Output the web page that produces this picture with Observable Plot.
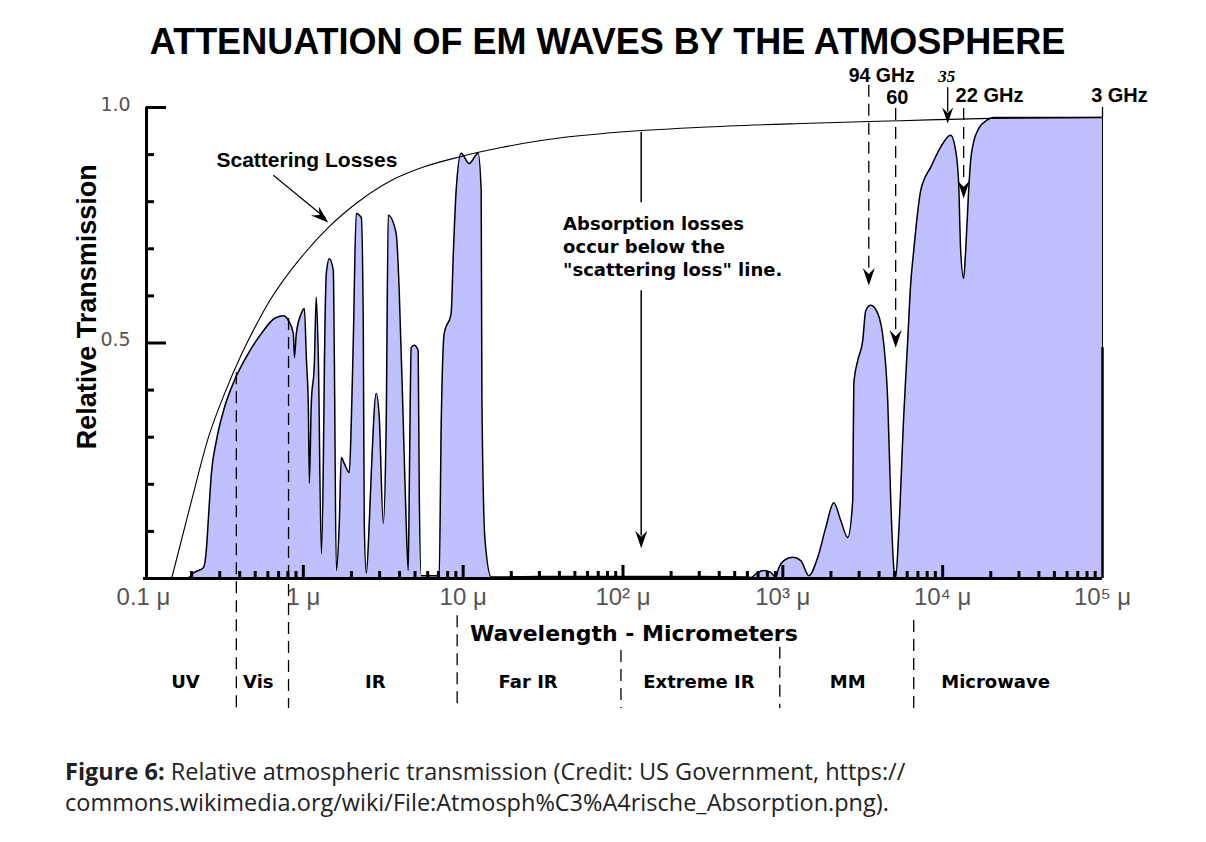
<!DOCTYPE html>
<html>
<head>
<meta charset="utf-8">
<script src="https://cdn.jsdelivr.net/npm/d3@7"></script>
<script src="https://cdn.jsdelivr.net/npm/@observablehq/plot@0.6"></script>
<style>
html, body { margin: 0; padding: 0; background: #fff; overflow: hidden; }
#title { height: 60px; box-sizing: border-box; padding-top: 27px; padding-left: 9px; text-align: center;
  font: bold 36px/29px "Liberation Sans", Arial, sans-serif; color: #000; white-space: nowrap; }
#chart svg { display: block; }
#caption { margin-top: 26px; padding-left: 65px; font: 23.5px/31px "Open Sans", "Noto Sans", sans-serif; color: #222; white-space: nowrap; }
</style>
</head>
<body>
<div id="title">ATTENUATION OF EM WAVES BY THE ATMOSPHERE</div>
<div id="chart"></div>
<div id="caption"><b>Figure 6:</b> Relative atmospheric transmission (Credit: US Government, https://<br>commons.wikimedia.org/wiki/File:Atmosph%C3%A4rische_Absorption.png).</div>
<script>
// ---- Data ----
// Relative transmission (filled curve): wavelength in micrometers, transmission 0..1
const transWavelength = [
  0.1, 0.186, 0.208, 0.237, 0.248, 0.255, 0.266, 0.286, 0.321, 0.370, 0.453, 0.546, 0.659, 0.750, 0.806,
  0.866, 0.879, 0.904, 0.972, 1.015, 1.044, 1.075, 1.090, 1.122, 1.172, 1.205, 1.241, 1.296, 1.334, 1.353,
  1.393, 1.454, 1.540, 1.563, 1.608, 1.679, 1.728, 1.804, 1.939, 1.995, 2.054, 2.144, 2.304, 2.371, 2.405,
  2.477, 2.585, 2.661, 2.858, 2.985, 3.162, 3.30, 3.40, 3.81, 3.98, 4.22, 4.40, 4.53, 4.60, 4.73, 4.94,
  5.23, 5.31, 5.46, 7.08, 7.29, 7.61, 8.41, 8.66, 9.04, 9.71, 10.9, 12.4, 12.96, 13.1, 13.7, 15.0,
  30, 100, 300, 600, 631, 698, 761, 841, 904, 944, 1015, 1155, 1296, 1454, 1654, 1856, 2083, 2304, 2547,
  2738, 2780, 2944, 3162, 3302, 3548, 3925, 4277, 4531, 4732, 4943, 5081, 5309, 5702, 6043, 6310, 6591,
  7291, 7499, 8414, 9716, 11220, 12050, 12590, 12960, 13530, 13930, 14540, 14960, 15630, 16790, 19100,
  20830, 100000
];
const transValue = [
  0, 0, 0.013, 0.023, 0.066, 0.130, 0.223, 0.293, 0.363, 0.420, 0.478, 0.520, 0.552, 0.558, 0.548,
  0.520, 0.469, 0.520, 0.563, 0.573, 0.469, 0.363, 0.202, 0.372, 0.456, 0.597, 0.469, 0.053, 0.244, 0.435,
  0.648, 0.679, 0.654, 0.469, 0.017, 0.117, 0.257, 0.244, 0.225, 0.329, 0.505, 0.775, 0.766, 0.541, 0.117,
  0.011, 0.117, 0.223, 0.393, 0.342, 0.117, 0.329, 0.771, 0.732, 0.611, 0.329, 0.117, 0.017, 0.187, 0.490, 0.495,
  0.484, 0.187, 0.006, 0.006, 0.329, 0.520, 0.563, 0.682, 0.824, 0.903, 0.881, 0.903, 0.824, 0.378, 0.081, 0.003,
  0.004, 0.004, 0.004, 0.003, 0.002, 0.013, 0.017, 0.013, 0.002, 0.023, 0.038, 0.045, 0.038, 0.006, 0.045, 0.108, 0.161, 0.123, 0.087,
  0.166, 0.414, 0.463, 0.505, 0.569, 0.580, 0.563, 0.499, 0.378, 0.166, 0.023, 0.002, 0.096, 0.342, 0.505, 0.626, 0.696,
  0.824, 0.839, 0.873, 0.916, 0.941, 0.909, 0.839, 0.696, 0.637, 0.696, 0.824, 0.887, 0.927, 0.955, 0.974,
  0.979, 0.979
];
// Scattering-loss limit (upper curve)
const scatterWavelength = [0.150, 0.200, 0.255, 0.321, 0.409, 0.510, 0.604, 0.729, 1.015, 1.43, 2.21, 3.55, 5.7, 9.7, 17.3, 30.7, 97, 307, 1296, 5464, 19950, 100000];
const scatterValue      = [0,     0.166, 0.300, 0.392, 0.475, 0.540, 0.585, 0.627, 0.690, 0.745, 0.800, 0.845, 0.874, 0.896, 0.915, 0.930, 0.948, 0.958, 0.966, 0.972, 0.977, 0.979];

// Axis ticks and labels
const xTickValues = [0.1, 1, 10, 100, 1000, 10000, 100000];
const xTickLabels = ["0.1 μ", "1 μ", "10 μ", "10² μ", "10³ μ", "10⁴ μ", "10⁵ μ"];
const xMajorTicks = [1, 10, 100, 1000, 10000];
const xMinorTicks = [0.1, 1, 10, 100, 1000, 10000].flatMap(d => [2, 3, 4, 5, 6, 7, 8, 9].map(k => k * d));
const yTickValues = [0.5, 1.0];
const yTickLabels = ["0.5", "1.0"];
const yMinorTicks = [0.1, 0.2, 0.3, 0.4, 0.6, 0.7, 0.8, 0.9];

// Spectral bands
const bandNames   = ["UV", "Vis", "IR", "Far IR", "Extreme IR", "MM", "Microwave"];
const bandCenters = [0.183, 0.523, 2.82, 25.5, 298.5, 2547, 21430];
const bandEdges   = [0.381, 0.808, 9.17, 97.1, 957, 6590];
const bandEdgeTop = [0.437, 0.552, -0.079, -0.153, -0.146, -0.089];

// Frequency markers (wavelength in micrometers)
const markerWavelength = [3450, 5081, 13530];
const markerTop = [1.047, 0.998, 0.998];
const markerTip = [0.622, 0.490, 0.807];
const marker35Wavelength = [10750];

// ---- Chart ----
const trans = transWavelength.map((w, i) => ({w, t: transValue[i]}));
const scatter = scatterWavelength.map((w, i) => ({w, t: scatterValue[i]}));

const arrowHead = {
  draw(ctx, size) {
    const r = Math.sqrt(size / Math.PI);
    ctx.moveTo(0, 0);
    ctx.lineTo(-0.55 * r, -1.6 * r);
    ctx.lineTo(0, -1.05 * r);
    ctx.lineTo(0.55 * r, -1.6 * r);
    ctx.closePath();
  }
};

const sans = "'Liberation Sans', Arial, sans-serif";
const deja = "'DejaVu Sans', sans-serif";
const dash = "12,7";

const chart = Plot.plot({
  width: 1206,
  height: 670,
  marginLeft: 143,
  marginRight: 104,
  marginTop: 47,
  marginBottom: 152,
  x: {type: "log", domain: [0.1, 1e5]},
  y: {domain: [0, 1]},
  style: {background: "white", overflow: "visible", color: "#000"},
  marks: [
    Plot.areaY(trans, {x: "w", y: "t", fill: "#c0c0ff", curve: "monotone-x"}),
    Plot.line(trans, {x: "w", y: "t", stroke: "#000", strokeWidth: 1.5, curve: "monotone-x"}),
    Plot.line(scatter, {x: "w", y: "t", stroke: "#000", strokeWidth: 1.1, curve: "monotone-x"}),

    // axes lines and inward ticks
    Plot.ruleY([0], {stroke: "#000", strokeWidth: 3}),
    Plot.ruleX([0.1], {y1: 0, y2: 1, stroke: "#000", strokeWidth: 3, dx: 3}),
    Plot.axisX({ticks: xMinorTicks, tickSize: -7, strokeWidth: 3, fill: "none", label: null}),
    Plot.axisX({ticks: xMajorTicks, tickSize: -13, strokeWidth: 3, fill: "none", label: null}),
    Plot.axisY({ticks: yMinorTicks, tickSize: -8, strokeWidth: 3, fill: "none", label: null, dx: 3}),
    Plot.axisY({ticks: yTickValues, tickSize: -20, strokeWidth: 3, fill: "none", label: null, dx: 3}),
    Plot.ruleX([1e5], {y1: 0, y2: 1.0, stroke: "#000", strokeWidth: 1}),
    Plot.ruleX([1e5], {y1: 0, y2: 0.49, stroke: "#000", strokeWidth: 2.5}),

    // tick labels
    Plot.text(xTickValues, {x: d => d, text: (d, i) => xTickLabels[i], frameAnchor: "bottom", lineAnchor: "middle", dy: 19,
      fontSize: 24, fill: "#555", fontFamily: sans}),
    Plot.text(yTickValues, {y: d => d, text: (d, i) => yTickLabels[i], frameAnchor: "left", textAnchor: "middle", dx: -28, dy: -3,
      fontSize: 19, fill: "#555", fontFamily: deja}),

    // axis titles
    Plot.text(["Relative Transmission"], {frameAnchor: "left", textAnchor: "middle", y: 0.577, dx: -56, rotate: -90, text: d => d,
      fontSize: 27, fontWeight: "bold", fontFamily: sans}),
    Plot.text([{w: 117, t: -0.117, label: "Wavelength - Micrometers"}], {x: "w", y: "t", text: "label",
      fontSize: 22, fontWeight: "bold", fontFamily: deja}),

    // spectral bands
    Plot.ruleX(bandEdges, {x: d => d, y1: (d, i) => bandEdgeTop[i], y2: -0.276, stroke: "#000", strokeWidth: 1.3, strokeDasharray: dash}),
    Plot.text(bandNames, {x: (d, i) => bandCenters[i], y: -0.221, text: d => d,
      fontSize: 18, fontWeight: "bold", fontFamily: deja}),

    // scattering losses annotation
    Plot.text([{w: 0.286, t: 0.887, label: "Scattering Losses"}], {x: "w", y: "t", text: "label", textAnchor: "start",
      fontSize: 21, fontWeight: "bold", fontFamily: sans}),
    Plot.link([{w1: 0.649, t1: 0.856, w2: 1.38, t2: 0.765}], {x1: "w1", y1: "t1", x2: "w2", y2: "t2", stroke: "#000", strokeWidth: 1.2}),
    Plot.dot([{w: 1.433, t: 0.756}], {x: "w", y: "t", symbol: arrowHead, r: 11, fill: "#000", stroke: null, rotate: -49.5}),

    // absorption annotation
    Plot.text([{w: 42.2, t: 0.707, label: "Absorption losses\noccur below the\n\"scattering loss\" line."}], {x: "w", y: "t", text: "label",
      textAnchor: "start", lineHeight: 1.28, fontSize: 18, fontWeight: "bold", fontFamily: deja}),
    Plot.ruleX([130], {y1: 0.947, y2: 0.798, stroke: "#000", strokeWidth: 1.5}),
    Plot.ruleX([130], {y1: 0.611, y2: 0.09, stroke: "#000", strokeWidth: 1.5}),
    Plot.dot([{w: 130, t: 0.064}], {x: "w", y: "t", symbol: arrowHead, r: 11, fill: "#000", stroke: null}),

    // frequency markers
    Plot.ruleX(markerWavelength, {x: d => d, y1: (d, i) => markerTop[i], y2: (d, i) => markerTip[i] + 0.03,
      stroke: "#000", strokeWidth: 1.3, strokeDasharray: dash}),
    Plot.dot(markerWavelength, {x: d => d, y: (d, i) => markerTip[i], symbol: arrowHead, r: 11, fill: "#000", stroke: null}),
    Plot.ruleX(marker35Wavelength, {x: d => d, y1: 1.042, y2: 0.99, stroke: "#000", strokeWidth: 1.3}),
    Plot.dot(marker35Wavelength, {x: d => d, y: 0.966, symbol: arrowHead, r: 10, fill: "#000", stroke: null}),
    Plot.ruleX([1e5], {y1: 0.979, y2: 1.0, stroke: "#000", strokeWidth: 1.3}),

    Plot.text([{w: 4155, t: 1.067, label: "94 GHz"}],
      {x: "w", y: "t", text: "label", fontSize: 19.5, fontWeight: "bold", fontFamily: sans}),
    Plot.text([{w: 5200, t: 1.021, label: "60"}, {w: 127700, t: 1.025, label: "3 GHz"}],
      {x: "w", y: "t", text: "label", fontSize: 20, fontWeight: "bold", fontFamily: sans}),
    Plot.text([{w: 12050, t: 1.025, label: "22 GHz"}],
      {x: "w", y: "t", text: "label", textAnchor: "start", fontSize: 20, fontWeight: "bold", fontFamily: sans}),
    Plot.text([{w: 10600, t: 1.066, label: "35"}],
      {x: "w", y: "t", text: "label", fontSize: 17, fontWeight: "bold", fontStyle: "italic", fontFamily: "'Liberation Serif', serif"})
  ]
});

document.getElementById("chart").appendChild(chart);
</script>
</body>
</html>
